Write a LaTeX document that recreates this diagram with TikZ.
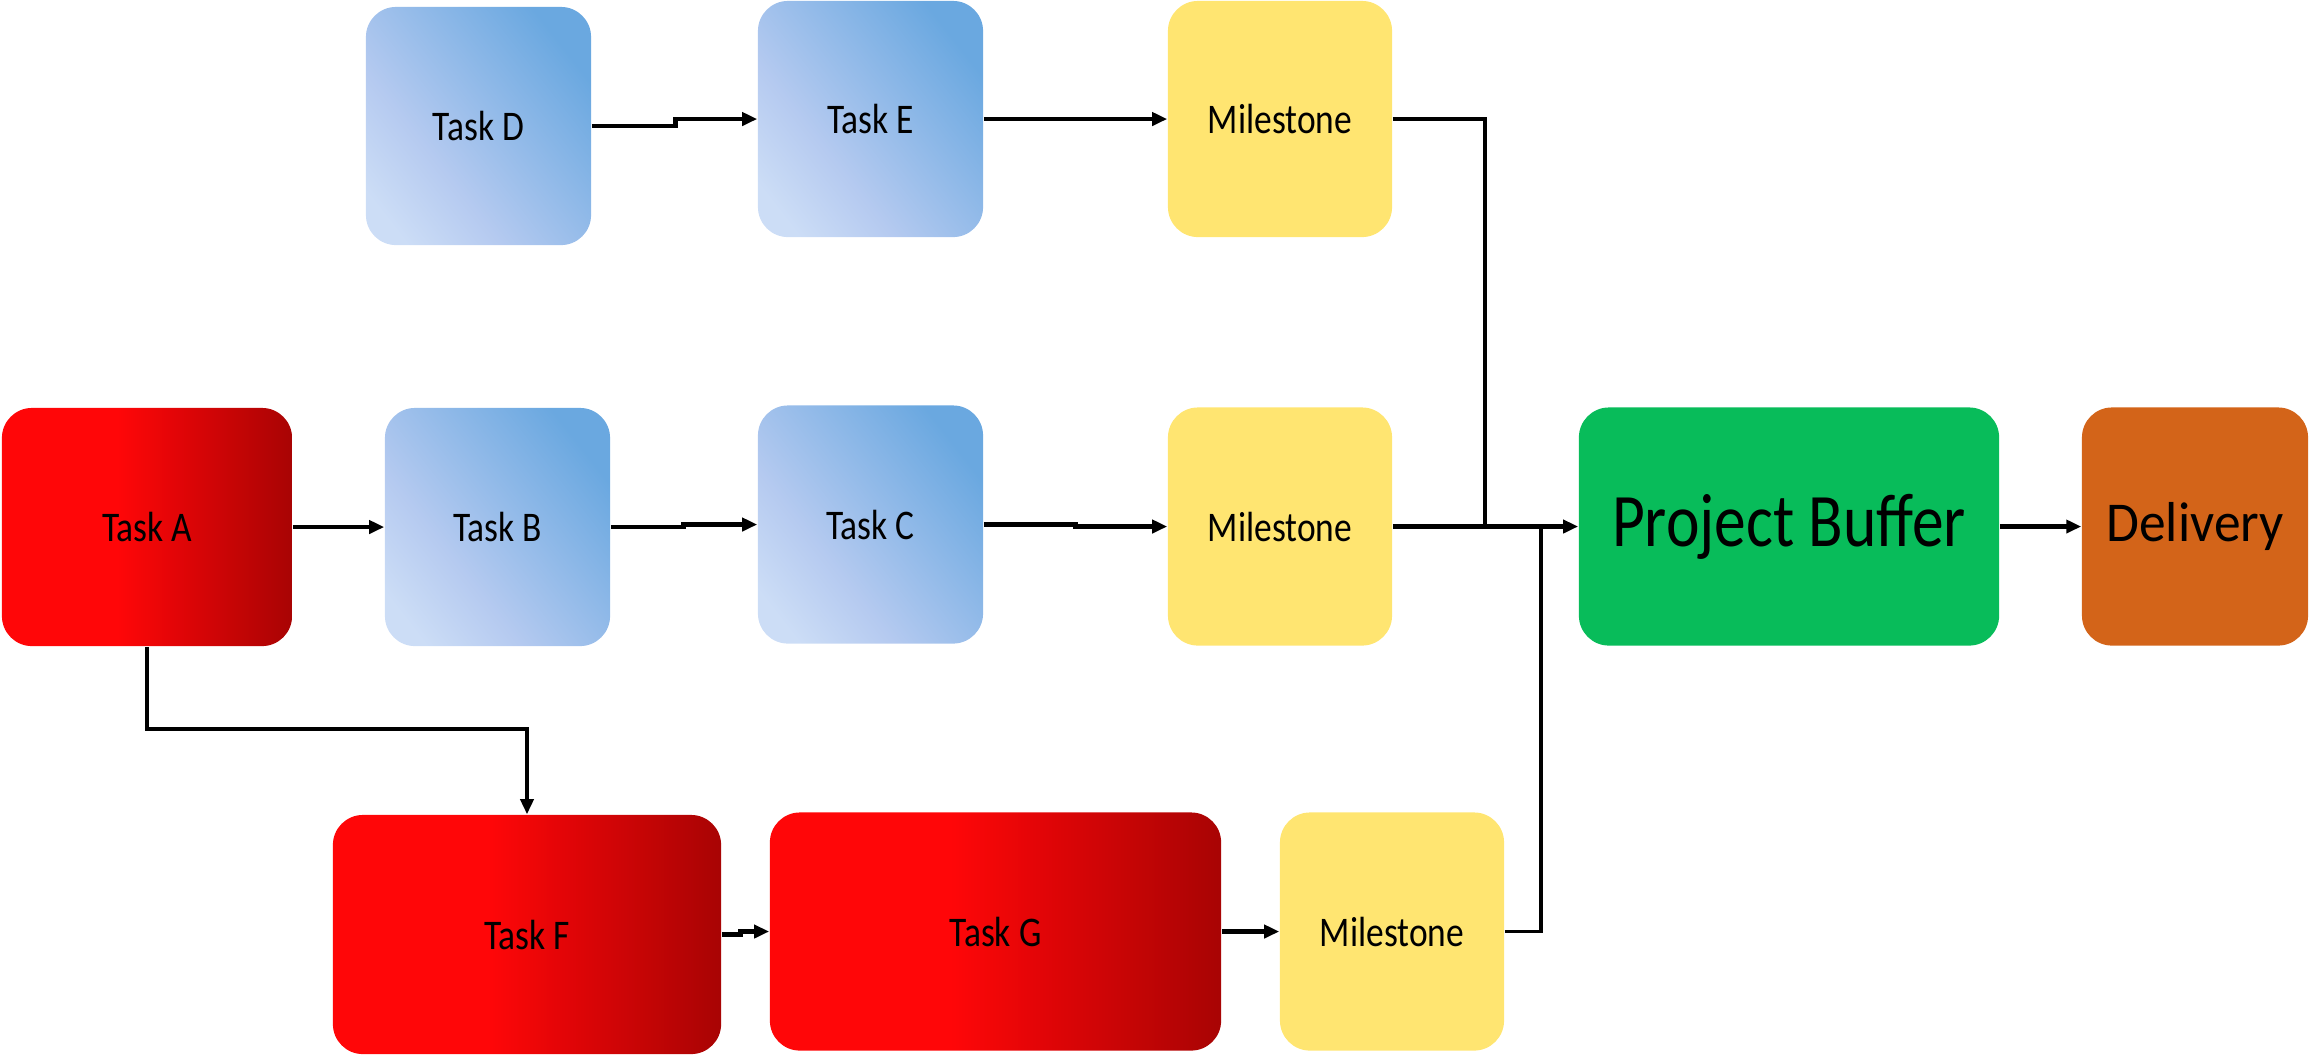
\documentclass[tikz,border=0pt]{standalone}
\usepackage{fontspec}
\setmainfont{Carlito}
\newfontfamily\boxfont{Carlito}[FakeStretch=0.84]
\newfontfamily\delfont{Carlito}[FakeStretch=0.95]
\usetikzlibrary{arrows.meta}

\definecolor{redA}{RGB}{255,6,8}
\definecolor{redB}{RGB}{168,4,4}
\definecolor{blueA}{RGB}{204,221,246}
\definecolor{blueB}{RGB}{181,202,240}
\definecolor{blueC}{RGB}{106,168,224}
\definecolor{mileY}{RGB}{255,229,113}
\definecolor{bufG}{RGB}{8,188,90}
\definecolor{delO}{RGB}{211,100,25}

\pgfdeclarehorizontalshading{redtask}{100bp}{color(0bp)=(redA); color(25bp)=(redA); color(45bp)=(redA); color(75bp)=(redB); color(100bp)=(redB)}
\pgfdeclarehorizontalshading{bluetask}{100bp}{color(0bp)=(blueA); color(22bp)=(blueA); color(38bp)=(blueB); color(75bp)=(blueC); color(100bp)=(blueC)}

\tikzset{
  card/.style={rectangle, rounded corners=0.3cm, inner sep=0pt, draw=none,
    minimum height=2.38cm, font=\boxfont\fontsize{12}{14}\selectfont},
  redcard/.style={card, shade, shading=redtask},
  bluecard/.style={card, shade, shading=bluetask, shading angle=38},
  milecard/.style={card, fill=mileY},
  wire/.style={line width=1.4pt, black},
  thinwire/.style={line width=1pt, black},
  arrow/.style={wire, -{Triangle[length=0.15cm,width=0.13cm]}},
  thinarrow/.style={thinwire, -{Triangle[length=0.15cm,width=0.13cm]}}
}

\begin{document}
\begin{tikzpicture}[x=0.01cm, y=-0.01cm]
\useasboundingbox (0,0) rectangle (2312,1059);

% top row
\node[bluecard, minimum width=2.25cm] (D) at (478.5,126) {Task D};
\node[bluecard, minimum width=2.25cm, minimum height=2.36cm] (E) at (870.5,119) {Task E};
\node[milecard, minimum width=2.24cm, minimum height=2.36cm] (M1) at (1280,119) {Milestone};

% middle row
\node[redcard, minimum width=2.9cm] (A) at (147,527) {Task A};
\node[bluecard, minimum width=2.25cm] (B) at (497.5,527) {Task B};
\node[bluecard, minimum width=2.25cm] (C) at (870.5,524.5) {Task C};
\node[milecard, minimum width=2.24cm] (M2) at (1280,526.5) {Milestone};
\node[card, fill=bufG, minimum width=4.2cm, font=\boxfont\fontsize{21.5}{24}\selectfont] (PB) at (1789,526.5) {Project Buffer};
\node[card, fill=delO, minimum width=2.26cm, font=\delfont\fontsize{16}{19}\selectfont] (DL) at (2195,526.5) {Delivery};

% bottom row
\node[redcard, minimum width=3.88cm, minimum height=2.39cm] (F) at (527,934.5) {Task F};
\node[redcard, minimum width=4.51cm] (G) at (995.5,931.5) {Task G};
\node[milecard, minimum width=2.24cm] (M3) at (1392,931.5) {Milestone};

% junction points on the buffer feed line
\coordinate (j1) at (1485,526.5);
\coordinate (j2) at (1541,526.5);

% connectors
\draw[arrow] (D.east) -- ++(84,0) |- (E.west);
\draw[arrow] (E.east) -- (M1.west);
\draw[arrow] (A.east) -- (B.west);
\draw[arrow] (B.east) -- ++(73,0) |- (C.west);
\draw[arrow] (C.east) -- ++(92,0) |- (M2.west);
\draw[arrow] (M2.east) -- (PB.west);
\draw[thinwire] (M1.east) -| (j1);
\draw[thinwire] (M3.east) -| (j2);
\draw[arrow] (PB.east) -- (DL.west);
\draw[thinarrow] (A.south) -- ++(0,82) -| (F.north);
\draw[arrow] (F.east) -- ++(19,0) |- (G.west);
\draw[arrow] (G.east) -- (M3.west);
\end{tikzpicture}
\end{document}
